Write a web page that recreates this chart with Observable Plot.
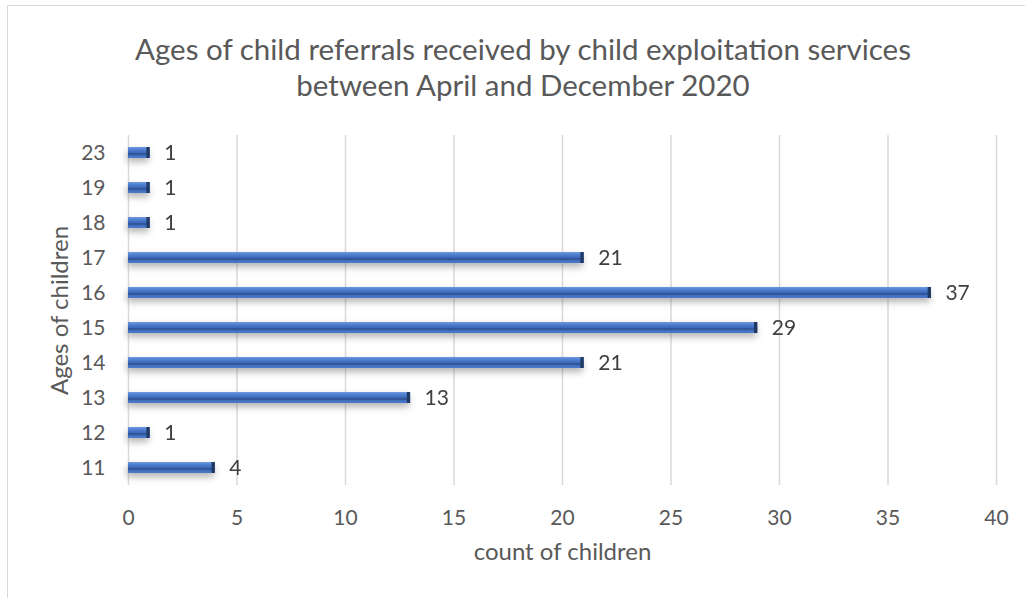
<!DOCTYPE html>
<html>
<head>
<meta charset="utf-8">
<script src="https://cdn.jsdelivr.net/npm/d3@7"></script>
<script src="https://cdn.jsdelivr.net/npm/@observablehq/plot@0.6"></script>
<style>
  html, body { margin: 0; padding: 0; background: #fff; }
  #wrap { position: relative; width: 1025px; height: 598px; overflow: hidden; font-family: Lato, "Open Sans", sans-serif; }
  #frame { position: absolute; left: 7px; top: 5px; width: 1100px; height: 700px; border: 1.5px solid #d9d9d9; box-sizing: border-box; }
  #title { position: absolute; left: 23px; width: 1000px; top: 31px; text-align: center; font-size: 29.5px; line-height: 36px; color: #595959; }
  #chart { position: absolute; left: 0; top: 0; }
</style>
</head>
<body>
<div id="wrap">
  <div id="frame"></div>
  <div id="chart"></div>
  <div id="title">Ages of child referrals received by child exploitation services<br>between April and December 2020</div>
</div>
<script>
const ages = ["11", "12", "13", "14", "15", "16", "17", "18", "19", "23"];
const counts = [4, 1, 13, 21, 29, 37, 21, 1, 1, 1];
const xTicks = [0, 5, 10, 15, 20, 25, 30, 35, 40];

const data = ages.map((a, i) => ({age: a, count: counts[i]}));

const defs = () => {
  const d = d3.create("svg:defs");
  const g = d.append("linearGradient").attr("id", "barGrad").attr("x1", 0).attr("y1", 0).attr("x2", 0).attr("y2", 1);
  [[0, "#6f98de"], [0.25, "#4f7ed0"], [0.5, "#3d6aba"], [0.64, "#2b4c8a"], [0.78, "#4270c0"], [1, "#4d7bcc"]]
    .forEach(([o, c]) => g.append("stop").attr("offset", o).attr("stop-color", c));
  return d.node();
};

const chart = Plot.plot({
  width: 1025,
  height: 598,
  marginTop: 135,
  marginBottom: 113,
  marginLeft: 128,
  marginRight: 29,
  style: {fontFamily: "Lato, 'Open Sans', sans-serif", fontSize: "21px", color: "#595959", background: "transparent", overflow: "visible"},
  x: {domain: [0, 40], ticks: xTicks, tickSize: 0, tickPadding: 25, label: "count of children", labelAnchor: "center", labelOffset: 74, labelArrow: "none", grid: false},
  y: {domain: ages.slice().reverse(), paddingInner: 0.69, paddingOuter: 0.345, align: 0.5, tickSize: 0, tickPadding: 23, label: "Ages of children", labelAnchor: "center", labelOffset: 78, labelArrow: "none"},
  marks: [
    defs,
    Plot.ruleX(xTicks, {stroke: "#d9d9d9", strokeWidth: 1.5, strokeOpacity: 1}),
    Plot.barX(data, {x: "count", y: "age", fill: "#6a6a6a", fillOpacity: 0.5, dy: 4, dx: -1, className: "shadowbars"}),
    Plot.barX(data, {x: "count", y: "age", fill: "url(#barGrad)", inset: 0}),
    Plot.barX(data, {x1: d => d.count - 0.15, x2: "count", y: "age", fill: "#1f3864", inset: 0}),
    Plot.text(data, {x: "count", y: "age", text: d => String(d.count), textAnchor: "start", dx: 14, fill: "#404040", fontSize: 21})
  ]
});

d3.select(chart).selectAll('rect').filter(function() { return this.getAttribute("fill") === "#6a6a6a" || (this.parentNode && this.parentNode.getAttribute("fill") === "#6a6a6a"); }).style("filter", "blur(2.5px)");
d3.select(chart).selectAll('g').filter(function() { return this.getAttribute("fill") === "#6a6a6a"; }).style("filter", "blur(2.5px)");
d3.select(chart).selectAll('[aria-label="y-axis label"] text, [aria-label="x-axis label"] text').attr("font-size", 24).attr("fill", "#595959");
document.getElementById("chart").appendChild(chart);
</script>
</body>
</html>
